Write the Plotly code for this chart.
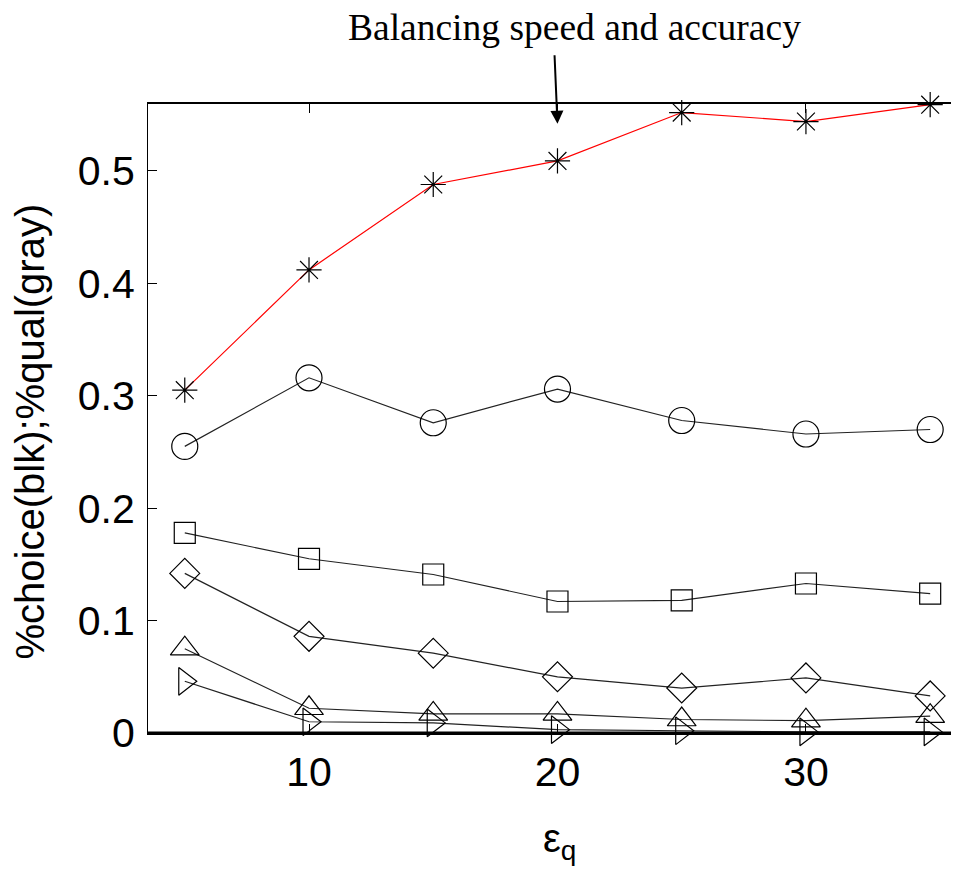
import plotly.graph_objects as go

eps_q = [5, 10, 15, 20, 25, 30, 35]

star_vals = [0.305, 0.412, 0.488, 0.509, 0.552, 0.544, 0.559]
circle_vals = [0.255, 0.316, 0.276, 0.306, 0.278, 0.266, 0.270]
square_vals = [0.178, 0.155, 0.141, 0.117, 0.118, 0.133, 0.124]
diamond_vals = [0.142, 0.086, 0.071, 0.050, 0.040, 0.049, 0.033]
tri_up_vals = [0.075, 0.022, 0.017, 0.017, 0.012, 0.011, 0.015]
tri_right_vals = [0.046, 0.010, 0.009, 0.003, 0.002, 0.001, 0.001]

y_ticks = [0, 0.1, 0.2, 0.3, 0.4, 0.5]
y_ticklabels = ["0", "0.1", "0.2", "0.3", "0.4", "0.5"]
x_ticks = [10, 20, 30]

series = [
    (star_vals, "asterisk-open", 21, "red"),
    (circle_vals, "circle-open", 26, "#222222"),
    (square_vals, "square-open", 21, "#222222"),
    (diamond_vals, "diamond-open", 23, "#222222"),
    (tri_up_vals, "triangle-up-open", 25, "#222222"),
    (tri_right_vals, "triangle-right-open", 24, "#222222"),
]

fig = go.Figure()
for vals, sym, sz, lc in series:
    fig.add_trace(go.Scatter(
        x=eps_q, y=vals, mode="lines+markers",
        line=dict(color=lc, width=1.2),
        marker=dict(symbol=sym, size=sz, color="black", line=dict(width=1.2)),
        showlegend=False, cliponaxis=False,
    ))

fig.update_layout(
    width=951, height=866,
    margin=dict(l=140, r=0, t=96, b=141),
    paper_bgcolor="white", plot_bgcolor="white",
    font=dict(family="Liberation Sans, Arial, sans-serif", color="black"),
    xaxis=dict(
        range=[3.52, 36.16], tickvals=x_ticks, ticks="inside", ticklen=9,
        tickwidth=1, tickcolor="black", showline=True, linecolor="black",
        linewidth=1.5, mirror="ticks", showgrid=False, zeroline=False,
        tickfont=dict(size=41), ticklabelstandoff=2,
    ),
    yaxis=dict(
        range=[0, 0.5596], tickvals=y_ticks, ticktext=y_ticklabels,
        ticks="inside", ticklen=9, tickwidth=1, tickcolor="black",
        showline=True, linecolor="black", linewidth=1.2, mirror=False,
        showgrid=False, zeroline=False, tickfont=dict(size=41),
        ticklabelstandoff=4,
    ),
    shapes=[dict(type="line", xref="paper", yref="y", x0=0, x1=1, y0=0, y1=0,
                 line=dict(color="black", width=3))],
    annotations=[
        dict(text="Balancing speed and accuracy", xref="paper", yref="paper",
             x=0.526, y=1.121, xanchor="center", yanchor="middle", borderpad=0,
             showarrow=False, font=dict(family="Liberation Serif, Times New Roman, serif", size=37.5)),
        dict(text="", x=20, y=0.542, xref="x", yref="y", showarrow=True,
             ax=-3, ay=-70, axref="pixel", ayref="pixel",
             arrowhead=2, arrowsize=1.3, arrowwidth=2, arrowcolor="black"),
        dict(text="%choice(blk);%qual(gray)", xref="paper", yref="paper",
             x=-0.145, y=0.48, xanchor="center", yanchor="middle", textangle=-90,
             showarrow=False, font=dict(size=40)),
        dict(text="ε<sub>q</sub>", xref="paper", yref="paper",
             x=0.508, y=-0.172, xanchor="center", yanchor="middle",
             showarrow=False, font=dict(size=40)),
    ],
)

fig.write_html("out.html")
